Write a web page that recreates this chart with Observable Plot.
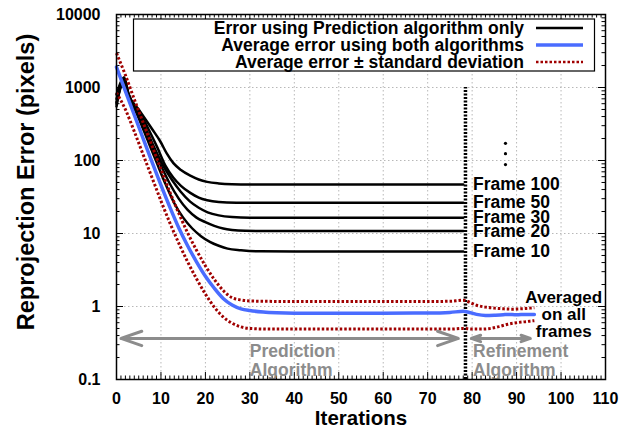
<!DOCTYPE html>
<html><head><meta charset="utf-8">
<script src="https://cdn.jsdelivr.net/npm/d3@7"></script>
<script src="https://cdn.jsdelivr.net/npm/@observablehq/plot@0.6"></script>
<style>
html,body{margin:0;padding:0;background:#fff;}
#chart svg{font-family:"Liberation Sans",Arial,Helvetica,sans-serif;}
</style>
</head><body><div id="chart"></div>
<script>
// ---------- data ----------
const frameNames = ["Frame 10", "Frame 20", "Frame 30", "Frame 50", "Frame 100"];
const frame10 = [[0,630],[1.7,1250],[2.7,800],[5,380],[7,190],[9,95],[11,48],[13,26],[15,16.5],[17,11.8],[19,9.2],[21,7.7],[23,6.8],[25,6.2],[28,5.9],[32,5.7],[40,5.66],[78,5.66]];
const frame20 = [[0,700],[1.7,1300],[2.7,790],[5,420],[7.8,165],[10,85],[12,48],[14,30],[16,21],[18,16.5],[20,14.3],[22,12.7],[24,11.7],[26,11.2],[29,10.9],[34,10.8],[78,10.8]];
const frame30 = [[0,800],[1.7,1340],[2.7,810],[5,450],[8.5,150],[10.5,85],[12.5,54],[14.5,37],[16.5,27.5],[18.5,22.5],[20.5,19.5],[23,17.7],[26,16.8],[30,16.45],[78,16.4]];
const frame50 = [[0,600],[1.7,1200],[2.7,780],[5,480],[9.2,150],[11,85],[12.8,58],[14.5,45],[16.6,36],[18.5,31],[20.4,28.5],[23,27],[27,26.4],[32,26.3],[78,26.3]];
const frame100 = [[0,550],[1.7,1380],[2.7,820],[5,500],[8,270],[9.8,185],[11.3,125],[12.8,92],[14.5,74],[16.6,62],[18.5,55],[20.4,51],[23,48.5],[26,47.3],[30,46.9],[78,46.9]];
const avgError = [[0,1900],[2,890],[4,420],[6,200],[8,95],[10,46],[12,23],[14,12],[16,6.8],[18,4.1],[20,2.6],[22,1.78],[24,1.29],[26,1.05],[28,0.93],[30,0.88],[33,0.84],[36,0.82],[40,0.81],[50,0.81],[60,0.81],[70,0.815],[75,0.83],[78,0.86],[79,0.84],[81,0.78],[83,0.755],[85,0.76],[87,0.77],[88,0.78],[90,0.77],[92,0.78],[94,0.78]];
const stdUpper = [[0,2950],[2,1480],[4,690],[6,330],[8,158],[10,76],[12,37],[14,19],[16,10.2],[18,5.9],[20,3.6],[22,2.35],[24,1.66],[26,1.32],[28,1.23],[30,1.19],[35,1.175],[40,1.17],[50,1.17],[60,1.17],[70,1.17],[75,1.18],[78,1.22],[79,1.17],[81,1.04],[83,0.98],[85,0.95],[87,0.93],[89,0.92],[91,0.93],[93,0.95],[94,0.96]];
const stdLower = [[0,850],[2,500],[4,250],[6,120],[8,58],[10,28],[12,14],[14,7.4],[16,4.1],[18,2.4],[20,1.48],[22,0.98],[24,0.72],[26,0.59],[28,0.525],[30,0.5],[35,0.49],[40,0.49],[50,0.49],[60,0.49],[70,0.49],[75,0.49],[78,0.5],[80,0.49],[82,0.49],[84,0.5],[86,0.53],[88,0.57],[90,0.6],[92,0.62],[94,0.64]];
const xTicks = [0,10,20,30,40,50,60,70,80,90,100,110];
const yTicks = [0.1,1,10,100,1000,10000];
const yTickLabels = ["0.1","1","10","100","1000","10000"];
const legendLabels = ["Error using Prediction algorithm only","Average error using both algorithms","Average error \u00b1 standard deviation"];
const phaseLabels = ["Prediction\nAlgorithm","Refinement\nAlgorithm"];
const averagedLabel = "Averaged\non all\nframes";
const xLabel = "Iterations";
const yLabel = "Reprojection Error (pixels)";
const ellipsisValues = [172, 124, 88];

// ---------- layout / style ----------
const W = 634, H = 436, mL = 116, mR = 29, mT = 14, mB = 57;
const pw = W - mL - mR, ph = H - mT - mB;
const FONT = "'Liberation Sans',Arial,Helvetica,sans-serif";
const cBlack = "#000", cBlue = "#4a6cff", cRed = "#a00000", cGrey = "#8c8c8c", cGrid = "#b8b8b8";

const frameSeries = [frame10, frame20, frame30, frame50, frame100];
const frameRows = frameSeries.flatMap((s, i) => s.map(([x, y]) => ({name: frameNames[i], x, y})));
const toRows = s => s.map(([x, y]) => ({x, y}));
const frameEnds = frameSeries.map((s, i) => ({name: frameNames[i], y: s[s.length - 1][1]}));

const xMinor = d3.range(0, 111, 1).filter(v => v % 10 !== 0);
const yMinor = [];
for (let e = -1; e < 4; e++) for (let k = 2; k <= 9; k++) yMinor.push(k * Math.pow(10, e));
const xGrid = xTicks.filter(v => v > 0 && v < 110);
const yGrid = yTicks.filter(v => v > 0.1 && v < 10000);

const lineX = 78.5;           // boundary between the two algorithms
const labelX = 80.2;
const arrowY = 0.365;
const phaseTextY = 0.182;

function legendMark(index, scales, values, dims) {
  const g = d3.create("svg:g").attr("font-family", FONT);
  g.append("rect").attr("x", 133.5).attr("y", 19).attr("width", 461).attr("height", 52)
    .attr("fill", "#fff").attr("stroke", "#000").attr("stroke-width", 1.2);
  const styles = [
    {stroke: cBlack, width: 2.5, dash: null},
    {stroke: cBlue, width: 3.5, dash: null},
    {stroke: cRed, width: 2.5, dash: "2.5,2"}
  ];
  legendLabels.forEach((t, i) => {
    const y = 28 + 17 * i;
    g.append("text").attr("x", 524).attr("y", y).attr("dy", "0.36em")
      .attr("text-anchor", "end").attr("font-size", 17.5).attr("font-weight", "bold")
      .attr("fill", "#000").text(t);
    const l = g.append("line").attr("x1", 536).attr("x2", 583).attr("y1", y).attr("y2", y)
      .attr("stroke", styles[i].stroke).attr("stroke-width", styles[i].width);
    if (styles[i].dash) l.attr("stroke-dasharray", styles[i].dash);
  });
  return g.node();
}

const txt = {fontWeight: "bold", fontFamily: FONT};
const dashed = {stroke: cRed, strokeWidth: 3, strokeDasharray: "2.5,2", strokeLinecap: "butt", strokeLinejoin: "miter", curve: "monotone-x"};

const chart = Plot.plot({
  width: W, height: H,
  marginLeft: mL, marginRight: mR, marginTop: mT, marginBottom: mB,
  style: {fontFamily: FONT, fontSize: "16px", background: "#fff", color: "#000"},
  x: {domain: [0, 110], label: null},
  y: {type: "log", domain: [0.1, 10000], label: null},
  marks: [
    // grid
    Plot.ruleX(xGrid, {stroke: cGrid, strokeWidth: 1, strokeDasharray: "1.5,2.5"}),
    Plot.ruleY(yGrid, {stroke: cGrid, strokeWidth: 1, strokeDasharray: "1.5,2.5"}),
    // inward ticks
    Plot.ruleX(xTicks, {insetTop: ph - 7, stroke: cBlack, strokeWidth: 1}),
    Plot.ruleX(xTicks, {insetBottom: ph - 7, stroke: cBlack, strokeWidth: 1}),
    Plot.ruleX(xMinor, {insetTop: ph - 3.5, stroke: cBlack, strokeWidth: 1}),
    Plot.ruleX(xMinor, {insetBottom: ph - 3.5, stroke: cBlack, strokeWidth: 1}),
    Plot.ruleY(yTicks, {insetRight: pw - 7, stroke: cBlack, strokeWidth: 1}),
    Plot.ruleY(yTicks, {insetLeft: pw - 7, stroke: cBlack, strokeWidth: 1}),
    Plot.ruleY(yMinor, {insetRight: pw - 3.5, stroke: cBlack, strokeWidth: 1}),
    Plot.ruleY(yMinor, {insetLeft: pw - 3.5, stroke: cBlack, strokeWidth: 1}),
    // legend box
    legendMark,
    // algorithm boundary
    Plot.ruleX([lineX], {y1: 0.1, y2: 1000, stroke: cBlack, strokeWidth: 3.5, strokeDasharray: "2,1.5", strokeLinecap: "butt"}),
    // per-frame prediction error
    Plot.line(frameRows, {x: "x", y: "y", z: "name", stroke: cBlack, strokeWidth: 2.5, curve: "monotone-x"}),
    // std band
    Plot.line(toRows(stdUpper), {x: "x", y: "y", ...dashed}),
    Plot.line(toRows(stdLower), {x: "x", y: "y", ...dashed}),
    // average
    Plot.line(toRows(avgError), {x: "x", y: "y", stroke: cBlue, strokeWidth: 3.5, curve: "monotone-x"}),
    // frame labels
    Plot.text(frameEnds, {x: labelX, y: "y", text: "name", textAnchor: "start", fontSize: 17.5, fill: cBlack, ...txt}),
    Plot.dot(ellipsisValues, {x: 87.5, y: d => d, r: 1.6, fill: cBlack, stroke: null}),
    // phase arrows
    Plot.arrow([[39, 1.0], [39, 76.9], [86.5, 79.8], [86.5, 93.1]], {x1: d => d[0], x2: d => d[1], y1: arrowY, y2: arrowY, stroke: cGrey, strokeWidth: 3, headLength: 11, headAngle: 38}),
    Plot.text([phaseLabels[0]], {x: 30, y: phaseTextY, text: d => d, textAnchor: "start", lineAnchor: "middle", lineHeight: 1.06, fontSize: 17.5, fill: cGrey, ...txt}),
    Plot.text([phaseLabels[1]], {x: labelX, y: phaseTextY, text: d => d, textAnchor: "start", lineAnchor: "middle", lineHeight: 1.06, fontSize: 17.5, fill: cGrey, ...txt}),
    Plot.text([averagedLabel], {x: 100.6, y: 0.776, text: d => d, textAnchor: "middle", lineAnchor: "middle", lineHeight: 0.98, fontSize: 17, fill: cBlack, ...txt}),
    // frame
    Plot.frame({stroke: cBlack, strokeWidth: 1.5}),
    // axes
    Plot.axisX({ticks: xTicks, tickSize: 0, tickPadding: 13, fontSize: 16, fontWeight: "bold", label: null, tickFormat: d => String(d)}),
    Plot.axisY({ticks: yTicks, tickSize: 0, tickPadding: 16, fontSize: 16, fontWeight: "bold", label: null, tickFormat: d => yTickLabels[yTicks.indexOf(d)]}),
    // axis titles
    Plot.text([xLabel], {frameAnchor: "bottom", textAnchor: "middle", dy: 45, text: d => d, fontSize: 20.5, fill: cBlack, ...txt}),
    Plot.text([yLabel], {frameAnchor: "left", textAnchor: "middle", dx: -90, dy: -15, rotate: -90, text: d => d, fontSize: 23.5, fill: cBlack, ...txt})
  ]
});
document.getElementById("chart").appendChild(chart);
</script>
</body></html>
